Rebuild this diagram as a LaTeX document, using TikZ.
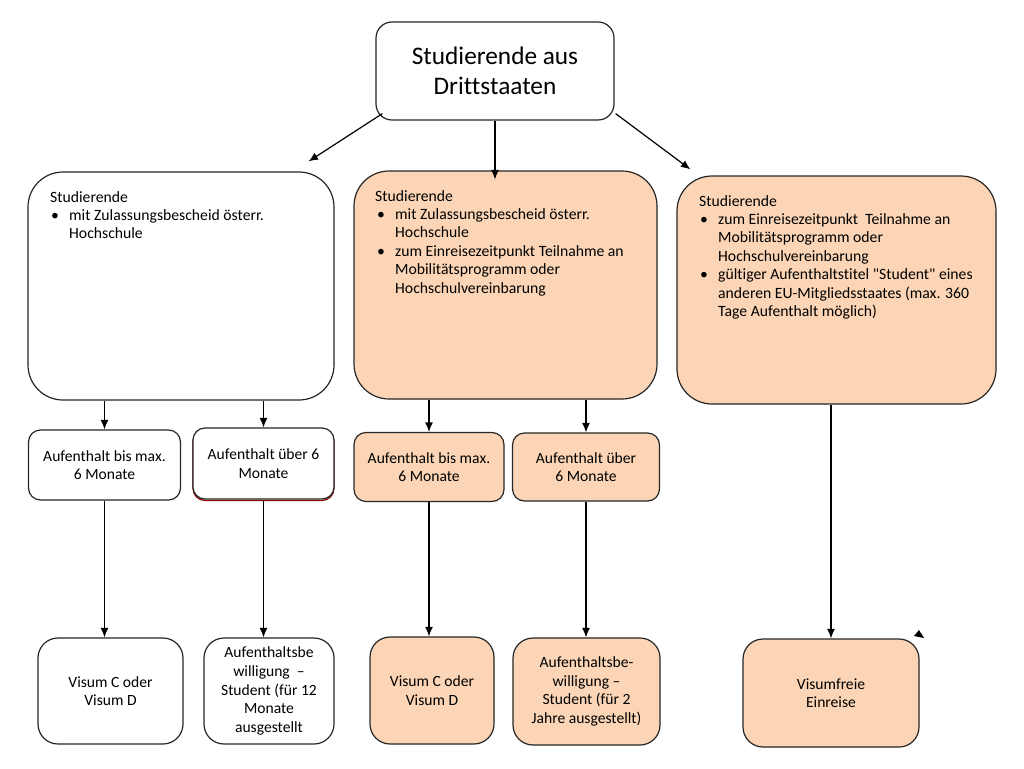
\documentclass[tikz,border=0pt]{standalone}
\usepackage{fontspec}
\setmainfont{Carlito}[Ligatures=NoCommon]
\newfontfamily\qfont{Carlito}
\usetikzlibrary{arrows.meta,calc}
\definecolor{peach}{RGB}{251,213,181}
\tikzset{
  box/.style={draw=black!85, line width=1.2pt, inner sep=0pt, align=center, font=\fontsize{15.6}{18.6}\selectfont},
  bigbox/.style={box, rounded corners=35pt},
  topbox/.style={box, rounded corners=16pt, font=\fontsize{25.3}{30.5}\selectfont},
  smallbox/.style={box, rounded corners=12pt},
  endbox/.style={box, rounded corners=20pt},
  txt/.style={anchor=north west, inner sep=0pt, align=left, font=\fontsize{15.7}{18.4}\selectfont},
  arr/.style={line width=1.2pt, -{Latex[length=9.5pt,width=8pt]}},
}
\newcommand{\bul}{\makebox[18pt][l]{\textbullet}}
\newcommand{\ind}{\hspace*{18pt}}
\newcommand{\dq}{{\qfont"}}
\begin{document}
\begin{tikzpicture}[x=1pt,y=-1pt]
\useasboundingbox (0,0) rectangle (1024,768);

% top
\node[topbox, minimum width=238pt, minimum height=98pt] (T) at (495,71) {Studierende aus\\Drittstaaten};

% big boxes
\node[bigbox, fill=white, minimum width=306pt, minimum height=228pt] (A) at (181,286) {};
\node[bigbox, fill=peach, minimum width=303pt, minimum height=228pt] (B) at (505.5,285) {};
\node[bigbox, fill=peach, minimum width=319pt, minimum height=228pt] (C) at (836.5,290) {};

\node[txt] (At) at (50,191) {Studierende\\\hspace*{1pt}\bul mit Zulassungsbescheid österr.\\\hspace*{1pt}\ind Hochschule};
\node[txt] (Bt) at (375,190) {Studierende\\\hspace*{2pt}\bul mit Zulassungsbescheid österr.\\\hspace*{2pt}\ind Hochschule\\\hspace*{2pt}\bul zum Einreisezeitpunkt Teilnahme an\\\hspace*{2pt}\ind Mobilitätsprogramm oder\\\hspace*{2pt}\ind Hochschulvereinbarung};
\node[txt] (Ct) at (699,195) {Studierende\\\hspace*{1pt}\bul zum Einreisezeitpunkt\ \ Teilnahme an\\\hspace*{1pt}\ind Mobilitätsprogramm oder\\\hspace*{1pt}\ind Hochschulvereinbarung\\\hspace*{1pt}\bul gültiger Aufenthaltstitel \dq Student\dq{} eines\\\hspace*{1pt}\ind anderen EU-Mitgliedsstaates (max. 360\\\hspace*{1pt}\ind Tage Aufenthalt möglich)};

% small boxes
\node[smallbox, fill=white, minimum width=152pt, minimum height=70pt] (S1) at (104.5,465) {Aufenthalt bis max.\\6 Monate};
\node[smallbox, draw=red!55!black, minimum width=141pt, minimum height=71pt] (S2sh) at (263.5,465) {};
\node[smallbox, fill=white, minimum width=141pt, minimum height=71pt] (S2) at (263.5,463.5) {Aufenthalt über 6\\Monate};
\node[smallbox, fill=peach, minimum width=150pt, minimum height=69pt] (S3) at (429,467) {Aufenthalt bis max.\\6 Monate};
\node[smallbox, fill=peach, minimum width=147pt, minimum height=68pt] (S4) at (586,467) {Aufenthalt über\\6 Monate};

% end boxes
\node[endbox, fill=white, minimum width=145pt, minimum height=106pt] (E1) at (110.5,691) {Visum C oder\\Visum D};
\node[endbox, fill=white, minimum width=130pt, minimum height=106pt] (E2) at (269,691) {Aufenthaltsbe\\willigung \ –\\Student (für 12\\Monate\\ausgestellt};
\node[endbox, fill=peach, minimum width=124pt, minimum height=107pt] (E3) at (432,690.5) {Visum C oder\\Visum D};
\node[endbox, fill=peach, minimum width=147pt, minimum height=107pt] (E4) at (586.5,691.5) {Aufenthaltsbe-\\willigung –\\Student (für 2\\Jahre ausgestellt)};
\node[endbox, fill=peach, minimum width=176pt, minimum height=108pt] (E5) at (831,693) {Visumfreie\\Einreise};

% arrows from top
\draw[arr] ([shift={(7,-7)}]T.south west) -- ([shift={(-26,-10)}]A.north east);
\draw[arr] (T.south) -- ([yshift=-9pt]B.north -| T.south);
\draw[arr] ([shift={(1,-7)}]T.south east) -- ([shift={(14,-6)}]C.north west);

% big to small
\draw[arr] (A.south -| S1.north) -- (S1.north);
\draw[arr] (A.south -| S2.north) -- (S2.north);
\draw[arr] (B.south -| S3.north) -- (S3.north);
\draw[arr] (B.south -| S4.north) -- (S4.north);

% small to end
\draw[arr] (S1.south) -- (S1.south |- E1.north);
\draw[arr] (S2sh.south) -- (S2sh.south |- E2.north);
\draw[arr] (S3.south) -- (S3.south |- E3.north);
\draw[arr] (S4.south) -- (S4.south |- E4.north);
\draw[arr] (C.south -| E5.north) -- (E5.north);

% stray arrowhead
\fill[black] (919,630) -- (914,636) -- (924,638) -- cycle;
\end{tikzpicture}
\end{document}
